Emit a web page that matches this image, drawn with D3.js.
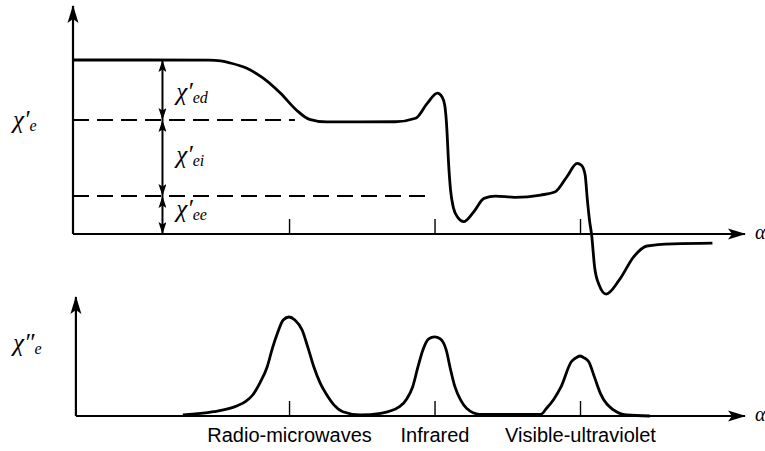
<!DOCTYPE html>
<html>
<head>
<meta charset="utf-8">
<script src="https://cdn.jsdelivr.net/npm/d3@7"></script>
<style>
  body { margin: 0; background: #fff; }
  svg { display: block; }
</style>
</head>
<body>
<svg></svg>
<script>
// resonance positions (log frequency, arbitrary units) and their names
const bandPos = [3, 4, 5];
const bandNames = ['Radio-microwaves', 'Infrared', 'Visible-ultraviolet'];

// static levels of chi'_e : total, after dipolar loss, after ionic loss
const levels = [1.0, 0.655, 0.218];
const levelLabels = ['ed', 'ei', 'ee'];

const realX = [1.52, 2.04, 2.45, 2.53, 2.59, 2.71, 2.82, 2.94, 3.05, 3.14, 3.26, 3.49, 3.73, 3.87, 3.95, 4.02,
               4.05, 4.07, 4.085, 4.095, 4.11, 4.13, 4.16, 4.20, 4.27, 4.34, 4.42, 4.55, 4.73, 4.83, 4.91,
               4.98, 5.01, 5.035, 5.05, 5.065, 5.08, 5.10, 5.13, 5.18, 5.27, 5.37, 5.46, 5.64, 5.91];
const realY = [1.0, 1.0, 0.999, 0.995, 0.984, 0.952, 0.897, 0.810, 0.713, 0.659, 0.644, 0.644, 0.645, 0.665, 0.751, 0.810,
               0.79, 0.741, 0.60, 0.43, 0.253, 0.15, 0.095, 0.071, 0.128, 0.205, 0.218, 0.211, 0.224, 0.243, 0.329,
               0.406, 0.395, 0.34, 0.20, 0.08, -0.006, -0.188, -0.29, -0.345, -0.264, -0.130, -0.069, -0.057, -0.053];

// chi''_e (imaginary part)
const imagX = [2.27, 2.48, 2.64, 2.70, 2.75, 2.80, 2.85, 2.885, 2.92, 2.96, 3.00, 3.04, 3.09, 3.13, 3.17, 3.215, 3.26, 3.31, 3.37, 3.49,
               3.63, 3.76, 3.81, 3.85, 3.885, 3.92, 3.96, 4.00, 4.04, 4.08, 4.11, 4.14, 4.18, 4.22, 4.31,
               4.73, 4.77, 4.82, 4.87, 4.94, 4.97, 5.00, 5.03, 5.06, 5.10, 5.14, 5.23, 5.32, 5.48];
const imagY = [0.01, 0.043, 0.101, 0.145, 0.212, 0.335, 0.498, 0.68, 0.835, 0.970, 1.0, 0.970, 0.869, 0.69, 0.498, 0.33, 0.212, 0.11, 0.043, 0.01,
               0.027, 0.094, 0.175, 0.296, 0.49, 0.667, 0.778, 0.80, 0.778, 0.667, 0.47, 0.296, 0.16, 0.078, 0.017,
               0.017, 0.078, 0.17, 0.296, 0.548, 0.586, 0.606, 0.586, 0.548, 0.39, 0.229, 0.061, 0.01, 0.0];

const size = {w: 765, h: 451};
const svg = d3.select('svg')
    .attr('width', size.w)
    .attr('height', size.h);

const x = d3.scaleLinear().domain([1.515, 6.134]).range([73, 745]);
const yTop = d3.scaleLinear().domain([0, 1]).range([234, 60]);
const yBot = d3.scaleLinear().domain([0, 1]).range([416, 317]);

const defs = svg.append('defs');
defs.append('marker')
    .attr('id', 'bigHead')
    .attr('markerUnits', 'userSpaceOnUse')
    .attr('viewBox', '0 0 18 12')
    .attr('refX', 17).attr('refY', 6)
    .attr('markerWidth', 18).attr('markerHeight', 12)
    .attr('orient', 'auto')
  .append('path')
    .attr('d', 'M0,0.5L18,6L0,11.5L4,6Z')
    .attr('fill', '#000');
defs.append('marker')
    .attr('id', 'smallHead')
    .attr('markerUnits', 'userSpaceOnUse')
    .attr('viewBox', '0 0 12 8')
    .attr('refX', 12).attr('refY', 4)
    .attr('markerWidth', 12).attr('markerHeight', 8)
    .attr('orient', 'auto-start-reverse')
  .append('path')
    .attr('d', 'M0,0L12,4L0,8L2.5,4Z')
    .attr('fill', '#000');

const line = d3.line().curve(d3.curveMonotoneX);

function panel(yScale, yTip, xMin) {
    const g = svg.append('g');
    // vertical axis with arrow
    g.append('line')
        .attr('x1', x(xMin)).attr('x2', x(xMin))
        .attr('y1', yScale(0)).attr('y2', yTip)
        .attr('stroke', '#000').attr('stroke-width', 2.2)
        .attr('marker-end', 'url(#bigHead)');
    // horizontal axis with arrow
    g.append('line')
        .attr('x1', x(xMin)).attr('x2', x.range()[1])
        .attr('y1', yScale(0)).attr('y2', yScale(0))
        .attr('stroke', '#000').attr('stroke-width', 2.2)
        .attr('marker-end', 'url(#bigHead)');
    g.append('text')
        .attr('x', x.range()[1] + 10).attr('y', yScale(0) + 5)
        .attr('font-family', 'Liberation Serif').attr('font-style', 'italic')
        .attr('font-size', 20)
        .text('α');
    return g;
}

// ---- top panel: chi'_e
const topG = panel(yTop, 6, 1.515);

const topAxis = topG.append('g')
    .attr('transform', `translate(0,${yTop(0)})`)
    .call(d3.axisBottom(x).tickValues(bandPos).tickSize(-15).tickSizeOuter(0).tickFormat(''));
topAxis.select('.domain').remove();
topAxis.selectAll('.tick line').attr('stroke-width', 1.4);

topG.selectAll('.level')
    .data(levels.slice(1))
    .join('line')
    .attr('class', 'level')
    .attr('x1', x(1.515))
    .attr('x2', (d, i) => x([3.04, 3.97][i]))
    .attr('y1', d => yTop(d)).attr('y2', d => yTop(d))
    .attr('stroke', '#000').attr('stroke-width', 2)
    .attr('stroke-dasharray', '16,8');

const spans = levels.map((d, i) => [d, i < levels.length - 1 ? levels[i + 1] : 0]);
topG.selectAll('.span')
    .data(spans)
    .join('line')
    .attr('class', 'span')
    .attr('x1', x(2.13)).attr('x2', x(2.13))
    .attr('y1', d => yTop(d[0])).attr('y2', d => yTop(d[1]))
    .attr('stroke', '#000').attr('stroke-width', 2)
    .attr('marker-start', 'url(#smallHead)')
    .attr('marker-end', 'url(#smallHead)');

const spanText = topG.selectAll('.spanlabel')
    .data(spans)
    .join('text')
    .attr('class', 'spanlabel')
    .attr('x', x(2.225))
    .attr('y', (d, i) => [100, 163, 217][i])
    .attr('font-family', 'Liberation Serif').attr('font-style', 'italic')
    .attr('font-size', 25);
spanText.append('tspan').text('χ′');
spanText.append('tspan')
    .attr('dy', 3).attr('font-size', 16)
    .text((d, i) => levelLabels[i]);

topG.append('path')
    .datum(realX.map((d, i) => [x(d), yTop(realY[i])]))
    .attr('d', line)
    .attr('fill', 'none').attr('stroke', '#000').attr('stroke-width', 2.8);

const topLabel = topG.append('text')
    .attr('x', 13).attr('y', 128)
    .attr('font-family', 'Liberation Serif').attr('font-style', 'italic')
    .attr('font-size', 25);
topLabel.append('tspan').text('χ′');
topLabel.append('tspan').attr('dy', 3).attr('font-size', 16).text('e');

// ---- bottom panel: chi''_e
const botG = panel(yBot, 297, 1.535);

const botAxis = botG.append('g')
    .attr('transform', `translate(0,${yBot(0)})`)
    .call(d3.axisBottom(x).tickValues(bandPos).tickSize(-15).tickSizeOuter(0).tickPadding(11.5)
        .tickFormat((d, i) => bandNames[i]));
botAxis.select('.domain').remove();
botAxis.selectAll('.tick line').attr('stroke-width', 1.4);
botAxis.selectAll('.tick text')
    .attr('font-family', 'Liberation Sans')
    .attr('font-size', 20)
    .attr('fill', '#000');

botG.append('path')
    .datum(imagX.map((d, i) => [x(d), yBot(imagY[i])]))
    .attr('d', line)
    .attr('fill', 'none').attr('stroke', '#000').attr('stroke-width', 2.8);

const botLabel = botG.append('text')
    .attr('x', 13).attr('y', 351)
    .attr('font-family', 'Liberation Serif').attr('font-style', 'italic')
    .attr('font-size', 25);
botLabel.append('tspan').text('χ″');
botLabel.append('tspan').attr('dy', 3).attr('font-size', 16).text('e');
</script>
</body>
</html>
